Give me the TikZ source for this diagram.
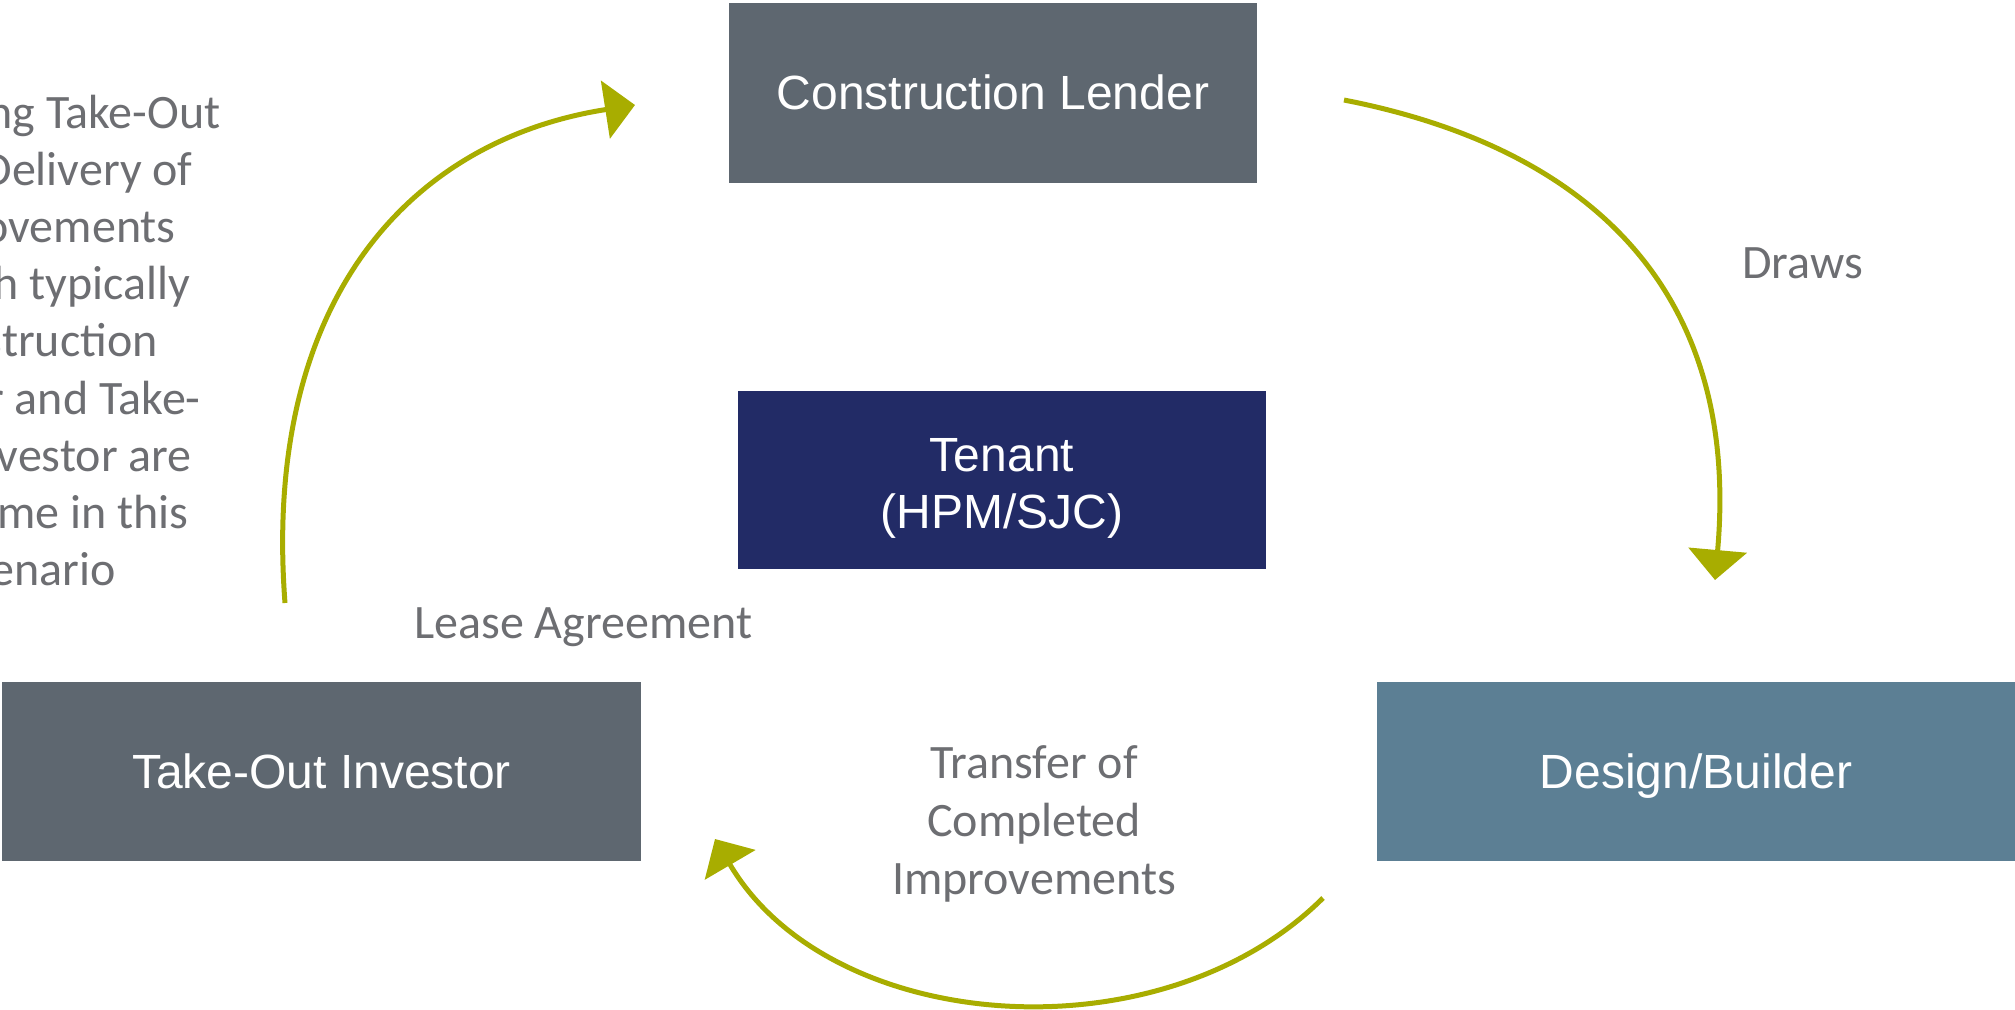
\documentclass[tikz,border=0pt]{standalone}
\usepackage{fontspec}
\setmainfont{Carlito}
\newfontfamily\boxfont{Liberation Sans}
\usetikzlibrary{arrows.meta}
\definecolor{slategray}{RGB}{94,103,112}
\definecolor{navyblue}{RGB}{34,43,102}
\definecolor{steelblue}{RGB}{92,127,148}
\definecolor{olivegreen}{RGB}{168,173,0}
\definecolor{labelgray}{RGB}{109,110,114}
\begin{document}
\begin{tikzpicture}[x=0.5pt,y=-0.5pt,
  box/.style={rectangle, inner sep=0pt, text=white, font=\boxfont\fontsize{24}{29}\selectfont,
              text height=21.7pt, text depth=5.1pt},
  boxtext/.style={inner sep=0pt, text=white, font=\boxfont\fontsize{24}{29}\selectfont},
  lbl/.style={inner sep=0pt, text=labelgray, font=\fontsize{24}{28.5}\selectfont},
  flow/.style={draw=olivegreen, line width=2.5pt, -{Triangle[length=15pt,width=29pt]}}]
\useasboundingbox (0,0) rectangle (2015,1009);
\clip (0,0) rectangle (2015,1009);

% boxes
\node[box, fill=slategray, minimum width=264pt, minimum height=90pt] (lender) at (993,93) {Construction Lender};
\node[box, fill=navyblue, minimum width=264pt, minimum height=89pt] (tenant) at (1002,480) {};
\node[boxtext, anchor=base] (tenantname) at (1002,471) {Tenant};
\node[boxtext, anchor=base] (tenantcode) at (1002,528) {(HPM/SJC)};
\node[box, fill=slategray, minimum width=319.5pt, minimum height=89.5pt] (investor) at (321.5,771.5) {Take-Out Investor};
\node[box, fill=steelblue, minimum width=319pt, minimum height=89.5pt] (builder) at (1696,771.5) {Design/Builder};

% left, clipped explanatory text
\node[lbl, anchor=base east] (t1) at (221,128) {ng Take-Out};
\node[lbl, anchor=base east] (t2) at (193,185) {Delivery of};
\node[lbl, anchor=base east] (t3) at (176,242) {ovements};
\node[lbl, anchor=base east] (t4) at (191,299) {h typically};
\node[lbl, anchor=base east] (t5) at (158,356) {struction};
\node[lbl, anchor=base east] (t6) at (201,414) {r and Take-};
\node[lbl, anchor=base east] (t7) at (192,471) {vestor are};
\node[lbl, anchor=base east] (t8) at (189,528) {me in this};
\node[lbl, anchor=base east] (t9) at (116,585) {enario};

% connector labels
\node[lbl, anchor=base west] (draws) at (1742,278) {Draws};
\node[lbl, anchor=base west] (lease) at (414,638) {Lease Agreement};
\node[lbl, anchor=base] (tr1) at (1034,778) {Transfer of};
\node[lbl, anchor=base] (tr2) at (1034,836) {Completed};
\node[lbl, anchor=base] (tr3) at (1034,894) {Improvements};

% arrows
\coordinate (la0) at (285,603);
\coordinate (la1) at (635,105);
\draw[flow] (la0) .. controls (262,300) and (410,140) .. (la1);

\coordinate (ra0) at (1344,100);
\coordinate (ra1) at (1715,580);
\draw[flow] (ra0) .. controls (1600,150) and (1740,300) .. (ra1);

\coordinate (ba0) at (1323,898);
\coordinate (ba1) at (715,839);
\draw[flow] (ba0) .. controls (1160,1060) and (830,1035) .. (ba1);
\end{tikzpicture}
\end{document}
